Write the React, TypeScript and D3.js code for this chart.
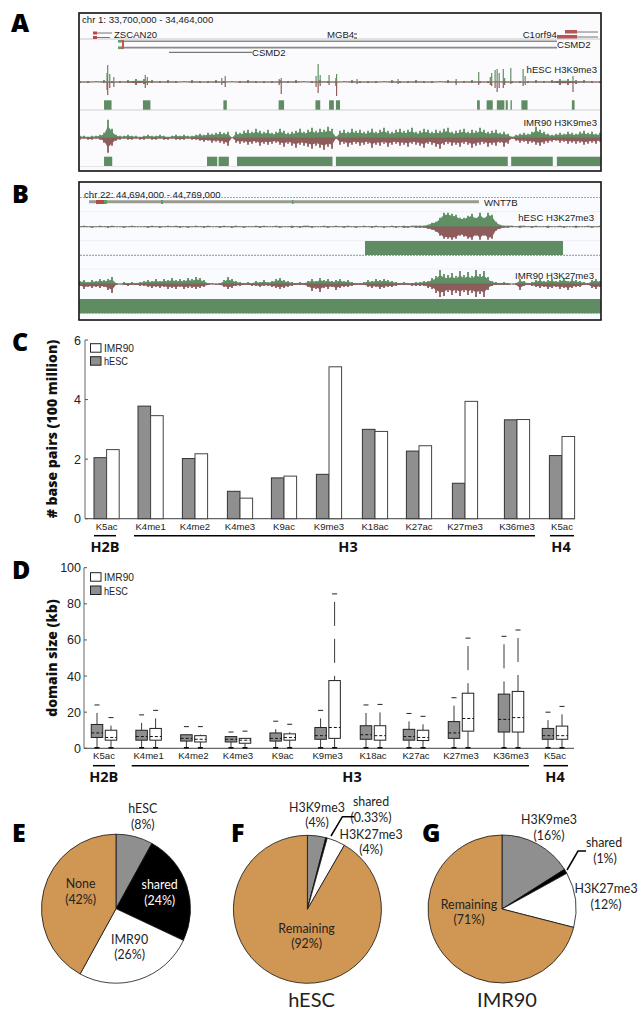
import React from "react";
import * as d3 from "d3";

// ---------- panel C / D data
const categories = ["K5ac","K4me1","K4me2","K4me3","K9ac","K9me3","K18ac","K27ac","K27me3","K36me3","K5ac"];
const hescBp = [2.05,3.78,2.02,0.92,1.37,1.49,3.0,2.27,1.19,3.32,2.12];
const imrBp = [2.32,3.46,2.18,0.69,1.43,5.1,2.93,2.45,3.94,3.33,2.76];
const bpTicks = [0,2,4,6];
const sizeTicks = [0,20,40,60,80,100];

const hescHi = [24,18.5,12,9,15,21,24,19.3,28,62,20];
const hescQ3 = [13.2,10,7.5,6.5,8.5,11.5,12.5,10.5,14.8,30,11];
const hescMed = [8.5,6.5,5.5,5,5.5,7,7.5,6.5,8.5,16,7];
const hescQ1 = [6,4.5,4,3.5,4,5,5,4.5,5.5,9,5];
const imrHi = [17,21,12,9.5,13.3,85.5,24.3,17.7,61,65.5,23.2];
const imrQ3 = [10,11,7,5.5,8,37.5,12.5,10,30.5,31.5,12.3];
const imrMed = [6,6.5,5,4.5,6,11.5,7,6,16.5,17,7];
const imrQ1 = [4.5,4.5,3.5,2.8,4.5,5.5,4.5,4.3,9.5,9,5];

// ---------- pies
const pieE = [8,24,26,42];
const pieF = [4,0.33,4,91.67];
const pieG = [16,1,12,71];
const pieColors = ["#8f8f8f","#000","#fff","#d09654"];

// ---------- browser tracks (signal height)
const aHescNoiseUp = [1,1,1,2,1,1,2,3,3,2,1,2,1,1,2,1,1,2,1,1,1,2,1,1,1,2,1,2,1,1,2,1,1,1,2,1,1,1,1,2,1,1,2,1,1,1,2,1,1,2,1,1,1,2,1,1,1,2,1,2,3,3,2,2,1,1];
const aHescNoiseDown = [1,1,0,1,1,1,1,3,2,1,1,1,1,0,1,1,1,1,1,0,1,1,1,1,1,1,1,1,0,1,1,1,1,0,1,1,1,1,0,1,1,1,1,1,1,0,1,1,1,1,1,1,0,1,1,1,1,1,1,1,3,3,2,1,1,1];
const aHescSpikeKb = [41,42,45,51,97,100,209,214,293,296,347,350,353,366,376,377,407,467,552,585,602,604,609,612,615,621,623,632,650,653,723];
const aHescSpikeUp = [9,17,8,5,7,5,4,6,3,4,6,18,7,7,4,8,3,3,3,10,5,9,12,13,9,13,4,14,13,6,6];
const aHescSpikeDown = [8,13,6,5,6,3,3,5,3,12,5,11,4,3,4,14,2,2,3,3,3,4,6,10,6,6,3,2,4,3,10];
const aImrUp = [2,2,1,2,2,3,5,18,9,3,2,2,3,2,2,1,2,3,2,2,3,2,1,2,3,2,3,2,2,3,4,3,5,4,5,6,5,6,0,6,5,7,8,6,9,7,6,8,5,6,9,7,5,6,7,9,6,8,10,7,9,8,11,9,1,7,8,6,9,7,8,6,7,9,6,8,10,7,6,8,9,7,8,10,6,7,9,8,6,8,7,9,10,6,7,8,9,6,8,7,10,8,6,7,8,5,6,4,1,3,4,5,4,6,11,8,6,4,3,4,5,4,6,5,4,6,7,5,6,4,5];
const aImrDown = [2,1,2,2,1,2,5,15,8,3,2,1,2,2,1,2,2,1,2,2,1,2,2,1,2,2,2,1,2,2,3,4,3,5,4,5,6,8,0,5,6,5,7,6,5,8,6,7,6,5,7,9,6,8,10,7,8,9,11,8,10,12,9,11,1,7,6,9,7,6,8,7,6,10,7,8,6,9,7,6,8,7,9,6,7,8,10,6,7,9,11,7,6,8,7,9,6,7,10,8,7,6,9,7,8,5,9,6,1,3,5,4,6,5,7,8,6,5,4,3,5,4,6,5,6,5,7,6,5,6,4];
const bHescUp = [0,1,0,0,0,1,0,0,1,0,0,0,0,1,0,0,0,0,1,0,0,0,1,0,1,0,0,0,0,1,0,0,1,0,0,0,1,0,0,1,0,0,0,0,1,0,1,0,0,1,0,0,0,1,0,0,1,1,0,0,0,1,0,0,1,0,0,1,0,0,0,1,0,0,1,0,0,0,1,0,0,1,0,1,1,1,1,2,4,5,9,14,14,13,12,9,9,11,13,9,14,9,14,12,5,2,1,1,1,0,1,1,0,0,1,0,0,1,0,0,1,0,0,0,1,0,0,1,0,0,1];
const bHescDown = [0,0,0,1,0,0,0,1,0,0,0,1,0,0,0,0,0,1,0,0,1,0,0,0,0,1,0,1,0,0,0,1,0,0,0,1,0,0,1,0,0,1,0,0,0,1,0,0,0,0,1,0,0,1,0,1,0,0,1,0,0,0,1,0,0,0,1,0,0,1,0,0,0,1,0,0,1,0,0,1,0,1,1,0,1,1,1,2,3,5,9,12,12,13,12,9,10,12,13,9,13,9,13,12,4,2,1,1,0,0,1,0,0,1,0,0,0,1,0,0,0,1,0,0,1,0,0,0,1,0,0];
const bImrUp = [3,4,2,4,3,5,4,5,7,1,0,2,1,2,1,2,3,4,3,5,3,5,4,6,4,5,4,6,5,7,6,4,1,1,0,1,4,7,5,3,2,1,2,1,3,2,4,2,3,5,6,4,3,2,1,2,1,3,5,3,6,4,5,3,4,5,3,4,2,1,1,2,4,3,5,4,5,4,3,2,1,2,1,1,2,2,3,3,6,8,14,10,9,11,8,13,9,12,8,14,10,13,7,3,2,1,2,1,0,1,5,3,1,2,4,5,3,4,5,3,4,6,3,5,4,3,2,1,4,5,3];
const bImrDown = [2,5,3,4,3,4,3,6,9,1,0,1,2,1,1,2,2,3,4,3,4,3,5,4,5,3,5,4,4,5,4,3,1,0,1,1,3,5,4,2,2,1,1,2,2,3,2,2,3,4,5,4,3,2,1,1,1,3,7,5,8,4,5,3,6,4,3,3,2,1,1,1,3,4,3,5,4,3,3,2,1,1,1,2,2,2,2,4,5,9,13,12,8,11,9,12,8,11,9,13,10,13,6,2,1,1,1,1,0,1,6,2,1,2,3,4,3,5,4,3,5,4,6,4,3,3,1,1,4,5,3];

// domain calls, kb from window start
const aHescDomains = [[36,47],[93,104],[211,216],[292,300],[346,353],[366,373],[376,382],[583,587],[597,606],[612,623],[625,628],[632,634],[648,657],[722,726]];
const aImrDomains = [[36,48],[187,202],[204,219],[231,371],[376,628],[633,694],[700,764]];
const bHescDomains = [[41.1,69.6]];
const bImrDomains = [[0,75]];

const GREEN = "#5f8f63", DOM = "#5e8c63", RED = "#8f5c5c";
const MYRIAD = "'Open Sans', 'Noto Sans', sans-serif";
const LABEL = "Lato, 'Open Sans', sans-serif";
const ARIAL = "'Liberation Sans', Arial, sans-serif";

const Track = ({ up, down, base, body = 0.65 }: { up: number[]; down: number[]; base: number; body?: number }) => {
  const x = d3.scaleLinear().domain([0, up.length - 1]).range([80, 600]);
  const h = d3.scaleLinear().domain([0, 20]).range([0, 20]);
  const a = (vals: number[], sign: number) =>
    d3.area<number>().x((_, i) => x(i)).y0(base).y1(v => base + sign * body * h(v))(vals) as string;
  return (
    <g>
      <path d={a(up, -1)} fill={GREEN} />
      <path d={a(down, 1)} fill={RED} />
      {up.map((v, i) => <line key={"u" + i} x1={x(i)} x2={x(i)} y1={base} y2={base - h(v)} stroke={GREEN} strokeWidth={1.8} />)}
      {down.map((v, i) => <line key={"d" + i} x1={x(i)} x2={x(i)} y1={base} y2={base + h(v)} stroke={RED} strokeWidth={1.8} />)}
      <line x1={80} x2={600} y1={base} y2={base} stroke="#6a6a5a" strokeWidth={0.7} />
    </g>
  );
};

function Domains({ data, span, y0, y1 }: { data: number[][]; span: number; y0: number; y1: number }) {
  const x = d3.scaleLinear().domain([0, span]).range([79.5, 600.5]);
  return <g>{data.map((d, i) => <rect key={i} x={x(d[0])} width={x(d[1]) - x(d[0])} y={y0} height={y1 - y0} fill={DOM} />)}</g>;
}

function PanelA() {
  const kb = d3.scaleLinear().domain([0, 764]).range([79, 601]);
  return (
    <g>
      <rect x={80} y={14} width={520} height={156} fill="#fbfbfe" />
      <g filter="url(#soft)">
        <line x1={80} x2={600} y1={39} y2={39} stroke="#c8c8cc" />
        <line x1={80} x2={600} y1={110} y2={110} stroke="#cfcfd2" />
        <line x1={80} x2={600} y1={167} y2={167} stroke="#cfcfd2" />
        <line x1={93} x2={112} y1={33} y2={33} stroke="#777" />
        <line x1={93} x2={110} y1={37.5} y2={37.5} stroke="#777" />
        <rect x={93} y={31.5} width={4} height={3} fill="#b34a4a" />
        <rect x={93} y={36} width={4} height={3} fill="#b34a4a" />
        <line x1={119} x2={557} y1={41.3} y2={41.3} stroke="#8a8a8a" strokeWidth={1.6} />
        <line x1={119} x2={557} y1={47.6} y2={47.6} stroke="#8a8a8a" strokeWidth={1.6} />
        <rect x={118} y={40} width={5} height={2.6} fill="#6d9a6d" />
        <rect x={118} y={46.5} width={5} height={2.6} fill="#6d9a6d" />
        <rect x={122} y={40} width={2} height={9} fill="#c05a50" />
        <line x1={169} x2={252} y1={52.3} y2={52.3} stroke="#777" strokeWidth={1.2} />
        <rect x={354} y={33} width={3} height={2} fill="#999" />
        <rect x={354} y={37} width={3} height={2} fill="#7a9a6a" />
        <line x1={565} x2={598} y1={32} y2={32} stroke="#777" />
        <line x1={557} x2={598} y1={37} y2={37} stroke="#777" />
        <rect x={565} y={30} width={12} height={3.5} fill="#b85656" />
        <rect x={557} y={35} width={20} height={3.5} fill="#b85656" />
        <Track up={aHescNoiseUp} down={aHescNoiseDown} base={82} body={0.4} />
        {aHescSpikeKb.map((k, i) => (
          <g key={i}>
            <line x1={kb(k)} x2={kb(k)} y1={82} y2={82 - aHescSpikeUp[i]} stroke={GREEN} strokeWidth={1.2} />
            <line x1={kb(k)} x2={kb(k)} y1={82} y2={82 + aHescSpikeDown[i]} stroke={RED} strokeWidth={1.2} />
          </g>
        ))}
        <Domains data={aHescDomains} span={764} y0={100.3} y1={109.7} />
        <Track up={aImrUp} down={aImrDown} base={137.7} />
        <Domains data={aImrDomains} span={764} y0={156.7} y1={166} />
      </g>
      <g fontFamily={ARIAL} fontSize={9.6} fill="#222">
        <text x={82} y={23}>chr 1: 33,700,000 - 34,464,000</text>
        <text x={114} y={37.5}>ZSCAN20</text>
        <text x={327} y={37.5}>MGB4</text>
        <text x={522.7} y={37.5}>C1orf94</text>
        <text x={557} y={48}>CSMD2</text>
        <text x={252} y={56}>CSMD2</text>
        <text x={597} y={73} textAnchor="end">hESC H3K9me3</text>
        <text x={597} y={126} textAnchor="end">IMR90 H3K9me3</text>
      </g>
      <rect x={79} y={13} width={522} height={158} fill="none" stroke="#111" strokeWidth={1.6} />
    </g>
  );
}

function PanelB() {
  const dashed = [197.3, 226.7, 255.3, 284, 314];
  const faint = [211.7, 240.7, 269];
  return (
    <g>
      <rect x={80} y={183} width={520} height={136} fill="#fafbfe" />
      <g filter="url(#soft)">
        {faint.map(y => <line key={y} x1={80} x2={600} y1={y} y2={y} stroke="#eeeef4" />)}
        {dashed.map(y => <line key={y} x1={80} x2={600} y1={y} y2={y} stroke="#777" strokeWidth={0.8} strokeDasharray="2 1" />)}
        <line x1={89} x2={479} y1={201.7} y2={201.7} stroke="#999a90" strokeWidth={3} />
        <rect x={96} y={200} width={8} height={4} fill="#b84a4a" />
        <rect x={104} y={200} width={3} height={4} fill="#5aa060" />
        <rect x={161} y={200} width={2} height={4} fill="#5aa060" />
        <rect x={292} y={200} width={1.5} height={4} fill="#5aa060" />
        <Track up={bHescUp} down={bHescDown} base={226.7} body={0.85} />
        <Domains data={bHescDomains} span={75} y0={241} y1={255} />
        <Track up={bImrUp} down={bImrDown} base={284} />
        <Domains data={bImrDomains} span={75} y0={299} y1={313.3} />
      </g>
      <g fontFamily={ARIAL} fontSize={9.6} fill="#222">
        <text x={84} y={198}>chr 22: 44,694,000 - 44,769,000</text>
        <text x={484} y={206}>WNT7B</text>
        <text x={594} y={221} textAnchor="end">hESC H3K27me3</text>
        <text x={594} y={279} textAnchor="end">IMR90 H3K27me3</text>
      </g>
      <rect x={79} y={182} width={522} height={138} fill="none" stroke="#111" strokeWidth={1.6} />
    </g>
  );
}

const groupLabels = (lineY: number, nameY: number, spans: [number, number, number, string][]) => (
  <g>
    {spans.map(([a, b, c, t]) => (
      <g key={t}>
        <line x1={a} x2={b} y1={lineY} y2={lineY} stroke="#000" strokeWidth={1.5} />
        <text x={c} y={nameY} textAnchor="middle" fontFamily={MYRIAD} fontWeight={700} fontSize={14.5} fill="#111">{t}</text>
      </g>
    ))}
  </g>
);

const legend = (x: number, y1: number, y2: number) => (
  <g fontFamily={ARIAL} fontSize={11} fill="#222">
    <rect x={x} y={y1} width={10.5} height={8.5} fill="#fff" stroke="#222" />
    <text x={x + 13.5} y={y1 + 8.7} textLength={30} lengthAdjust="spacingAndGlyphs">IMR90</text>
    <rect x={x} y={y2} width={10.5} height={8.5} fill="#8f8f8f" stroke="#222" />
    <text x={x + 13.5} y={y2 + 8.7} textLength={24} lengthAdjust="spacingAndGlyphs">hESC</text>
  </g>
);

function PanelC() {
  const centers = [106.6,150.6,195,240,284,329,375,419,465,517,562];
  const y = d3.scaleLinear().domain([0, 6]).range([518.7, 340]);
  const bw = 12.6;
  return (
    <g>
      <line x1={85} x2={85} y1={y(6)} y2={y(0)} stroke="#666" />
      <line x1={85} x2={575} y1={y(0)} y2={y(0)} stroke="#666" strokeWidth={1.2} />
      {bpTicks.map(t => (
        <g key={t}>
          <line x1={85} x2={88} y1={y(t)} y2={y(t)} stroke="#555" />
          <text x={81} y={y(t) + 4.5} textAnchor="end" fontFamily={ARIAL} fontSize={12.5} fill="#222">{t}</text>
        </g>
      ))}
      {categories.map((c, i) => (
        <g key={i}>
          <rect x={centers[i] - bw} y={y(hescBp[i])} width={bw} height={y(0) - y(hescBp[i])} fill="#8f8f8f" stroke="#333" strokeWidth={1} />
          <rect x={centers[i]} y={y(imrBp[i])} width={bw} height={y(0) - y(imrBp[i])} fill="#fff" stroke="#444" strokeWidth={1} />
          <text x={centers[i]} y={529.5} textAnchor="middle" fontFamily={ARIAL} fontSize={9.6} fill="#222">{c}</text>
        </g>
      ))}
      {groupLabels(535.7, 552, [[94,116,105,"H2B"],[134,535,348,"H3"],[550,574,561,"H4"]])}
      {legend(90.5, 343.7, 356.7)}
      <text transform="translate(57,429) rotate(-90)" textAnchor="middle" fontFamily={MYRIAD} fontWeight={800} fontSize={14} fill="#111"># base pairs (100 million)</text>
    </g>
  );
}

function Whisker({ x, q3, q1, hi, med, fill, y }: any) {
  const w = 11.5;
  return (
    <g>
      <line x1={x} x2={x} y1={y(hi)} y2={y(q3)} stroke="#222" strokeWidth={0.9} strokeDasharray="0 8 24 5" />
      <line x1={x} x2={x} y1={y(q1)} y2={y(0)} stroke="#222" strokeWidth={0.9} />
      <line x1={x - 2.5} x2={x + 2.5} y1={y(hi)} y2={y(hi)} stroke="#222" strokeWidth={1} />
      <line x1={x - 2.5} x2={x + 2.5} y1={y(0) - 0.5} y2={y(0) - 0.5} stroke="#111" strokeWidth={1.6} />
      <rect x={x - w / 2} y={y(q3)} width={w} height={y(q1) - y(q3)} fill={fill} stroke="#222" strokeWidth={1} />
      <line x1={x - w / 2} x2={x + w / 2} y1={y(med)} y2={y(med)} stroke="#111" strokeWidth={1} strokeDasharray="3 2" />
    </g>
  );
}

function PanelD() {
  const centers = [104,148.6,193.4,238,282.7,327.6,373,416,461,511,555];
  const y = d3.scaleLinear().domain([0, 100]).range([748.3, 567.7]);
  return (
    <g>
      <line x1={84} x2={84} y1={y(100)} y2={y(0)} stroke="#666" />
      <line x1={84} x2={574} y1={y(0)} y2={y(0)} stroke="#666" strokeWidth={1.2} />
      {sizeTicks.map(t => (
        <g key={t}>
          <line x1={84} x2={87} y1={y(t)} y2={y(t)} stroke="#555" />
          <text x={81} y={y(t) + 4.5} textAnchor="end" fontFamily={ARIAL} fontSize={12.5} fill="#222">{t}</text>
        </g>
      ))}
      {categories.map((c, i) => (
        <g key={i}>
          <Whisker x={centers[i] - 7} hi={hescHi[i]} q3={hescQ3[i]} med={hescMed[i]} q1={hescQ1[i]} fill="#8f8f8f" y={y} />
          <Whisker x={centers[i] + 7} hi={imrHi[i]} q3={imrQ3[i]} med={imrMed[i]} q1={imrQ1[i]} fill="#fff" y={y} />
          <text x={centers[i]} y={759} textAnchor="middle" fontFamily={ARIAL} fontSize={9.6} fill="#222">{c}</text>
        </g>
      ))}
      {groupLabels(765.7, 782, [[93,115,103.7,"H2B"],[131.7,529,352,"H3"],[543.6,568,555,"H4"]])}
      {legend(90.5, 572.7, 586)}
      <text transform="translate(57,658) rotate(-90)" textAnchor="middle" fontFamily={MYRIAD} fontWeight={800} fontSize={14} fill="#111">domain size (kb)</text>
    </g>
  );
}

function Pie({ values, colors, cx, cy, r }: { values: number[]; colors: string[]; cx: number; cy: number; r: number }) {
  const arcs = d3.pie<number>().sort(null)(values);
  const arc = d3.arc<d3.PieArcDatum<number>>().innerRadius(0).outerRadius(r);
  return (
    <g transform={`translate(${cx},${cy})`}>
      {arcs.map((a, i) => <path key={i} d={arc(a) as string} fill={colors[i]} stroke="#111" strokeWidth={0.8} />)}
    </g>
  );
}

const L = ({ x, y, t, c = "#222", s = 12.4 }: { x: number; y: number; t: string; c?: string; s?: number }) => (
  <text x={x} y={y} textAnchor="middle" fontFamily={LABEL} fontSize={s} fill={c}>{t}</text>
);

function Letters() {
  const items: [string, number, number][] = [["A",11,32],["B",12,203],["C",12,351],["D",12,579],["E",12,842],["F",231,842],["G",422,842]];
  return <g fontFamily={MYRIAD} fontWeight={800} fontSize={25} fill="#000">{items.map(([t,x,y]) => <text key={t} x={x} y={y}>{t}</text>)}</g>;
}

export default function App() {
  return (
    <svg width={642} height={1027} style={{ position: "absolute", left: 0, top: 0, background: "#fff" }}>
      <defs>
        <filter id="soft" x="0" y="0" width="100%" height="100%"><feGaussianBlur stdDeviation={0.35} /></filter>
      </defs>
      <Letters />
      <PanelA />
      <PanelB />
      <PanelC />
      <PanelD />
      <Pie values={pieE} colors={pieColors} cx={116} cy={908.7} r={74.5} />
      <Pie values={pieF} colors={pieColors} cx={307.4} cy={909.3} r={74} />
      <Pie values={pieG} colors={pieColors} cx={502} cy={909} r={74} />
      <L x={142.8} y={813} t="hESC" /><L x={142.8} y={829} t="(8%)" />
      <L x={159.7} y={889} t="shared" c="#fff" /><L x={159.7} y={905} t="(24%)" c="#fff" />
      <L x={129.6} y={944} t="IMR90" /><L x={129.6} y={959} t="(26%)" />
      <L x={80.6} y={888} t="None" /><L x={80.6} y={904} t="(42%)" />
      <L x={317} y={812} t="H3K9me3" /><L x={317} y={827} t="(4%)" />
      <L x={371} y={806} t="shared" /><L x={371} y={822} t="(0.33%)" />
      <polyline points="354,816.7 342.4,816.7 331,836" fill="none" stroke="#000" strokeWidth={1.5} />
      <L x={371} y={839} t="H3K27me3" /><L x={371} y={854} t="(4%)" />
      <L x={306.6} y={932.7} t="Remaining" /><L x={306.6} y={948} t="(92%)" />
      <L x={311.5} y={1007} t="hESC" s={20} />
      <L x={549} y={824} t="H3K9me3" /><L x={549} y={840} t="(16%)" />
      <L x={604} y={847} t="shared" /><L x={605} y={863} t="(1%)" />
      <polyline points="586,851 578,851 567,870" fill="none" stroke="#000" strokeWidth={1.5} />
      <L x={606} y={893} t="H3K27me3" /><L x={606} y={909} t="(12%)" />
      <L x={469} y={909} t="Remaining" /><L x={469} y={924} t="(71%)" />
      <L x={507} y={1007} t="IMR90" s={20} />
    </svg>
  );
}
